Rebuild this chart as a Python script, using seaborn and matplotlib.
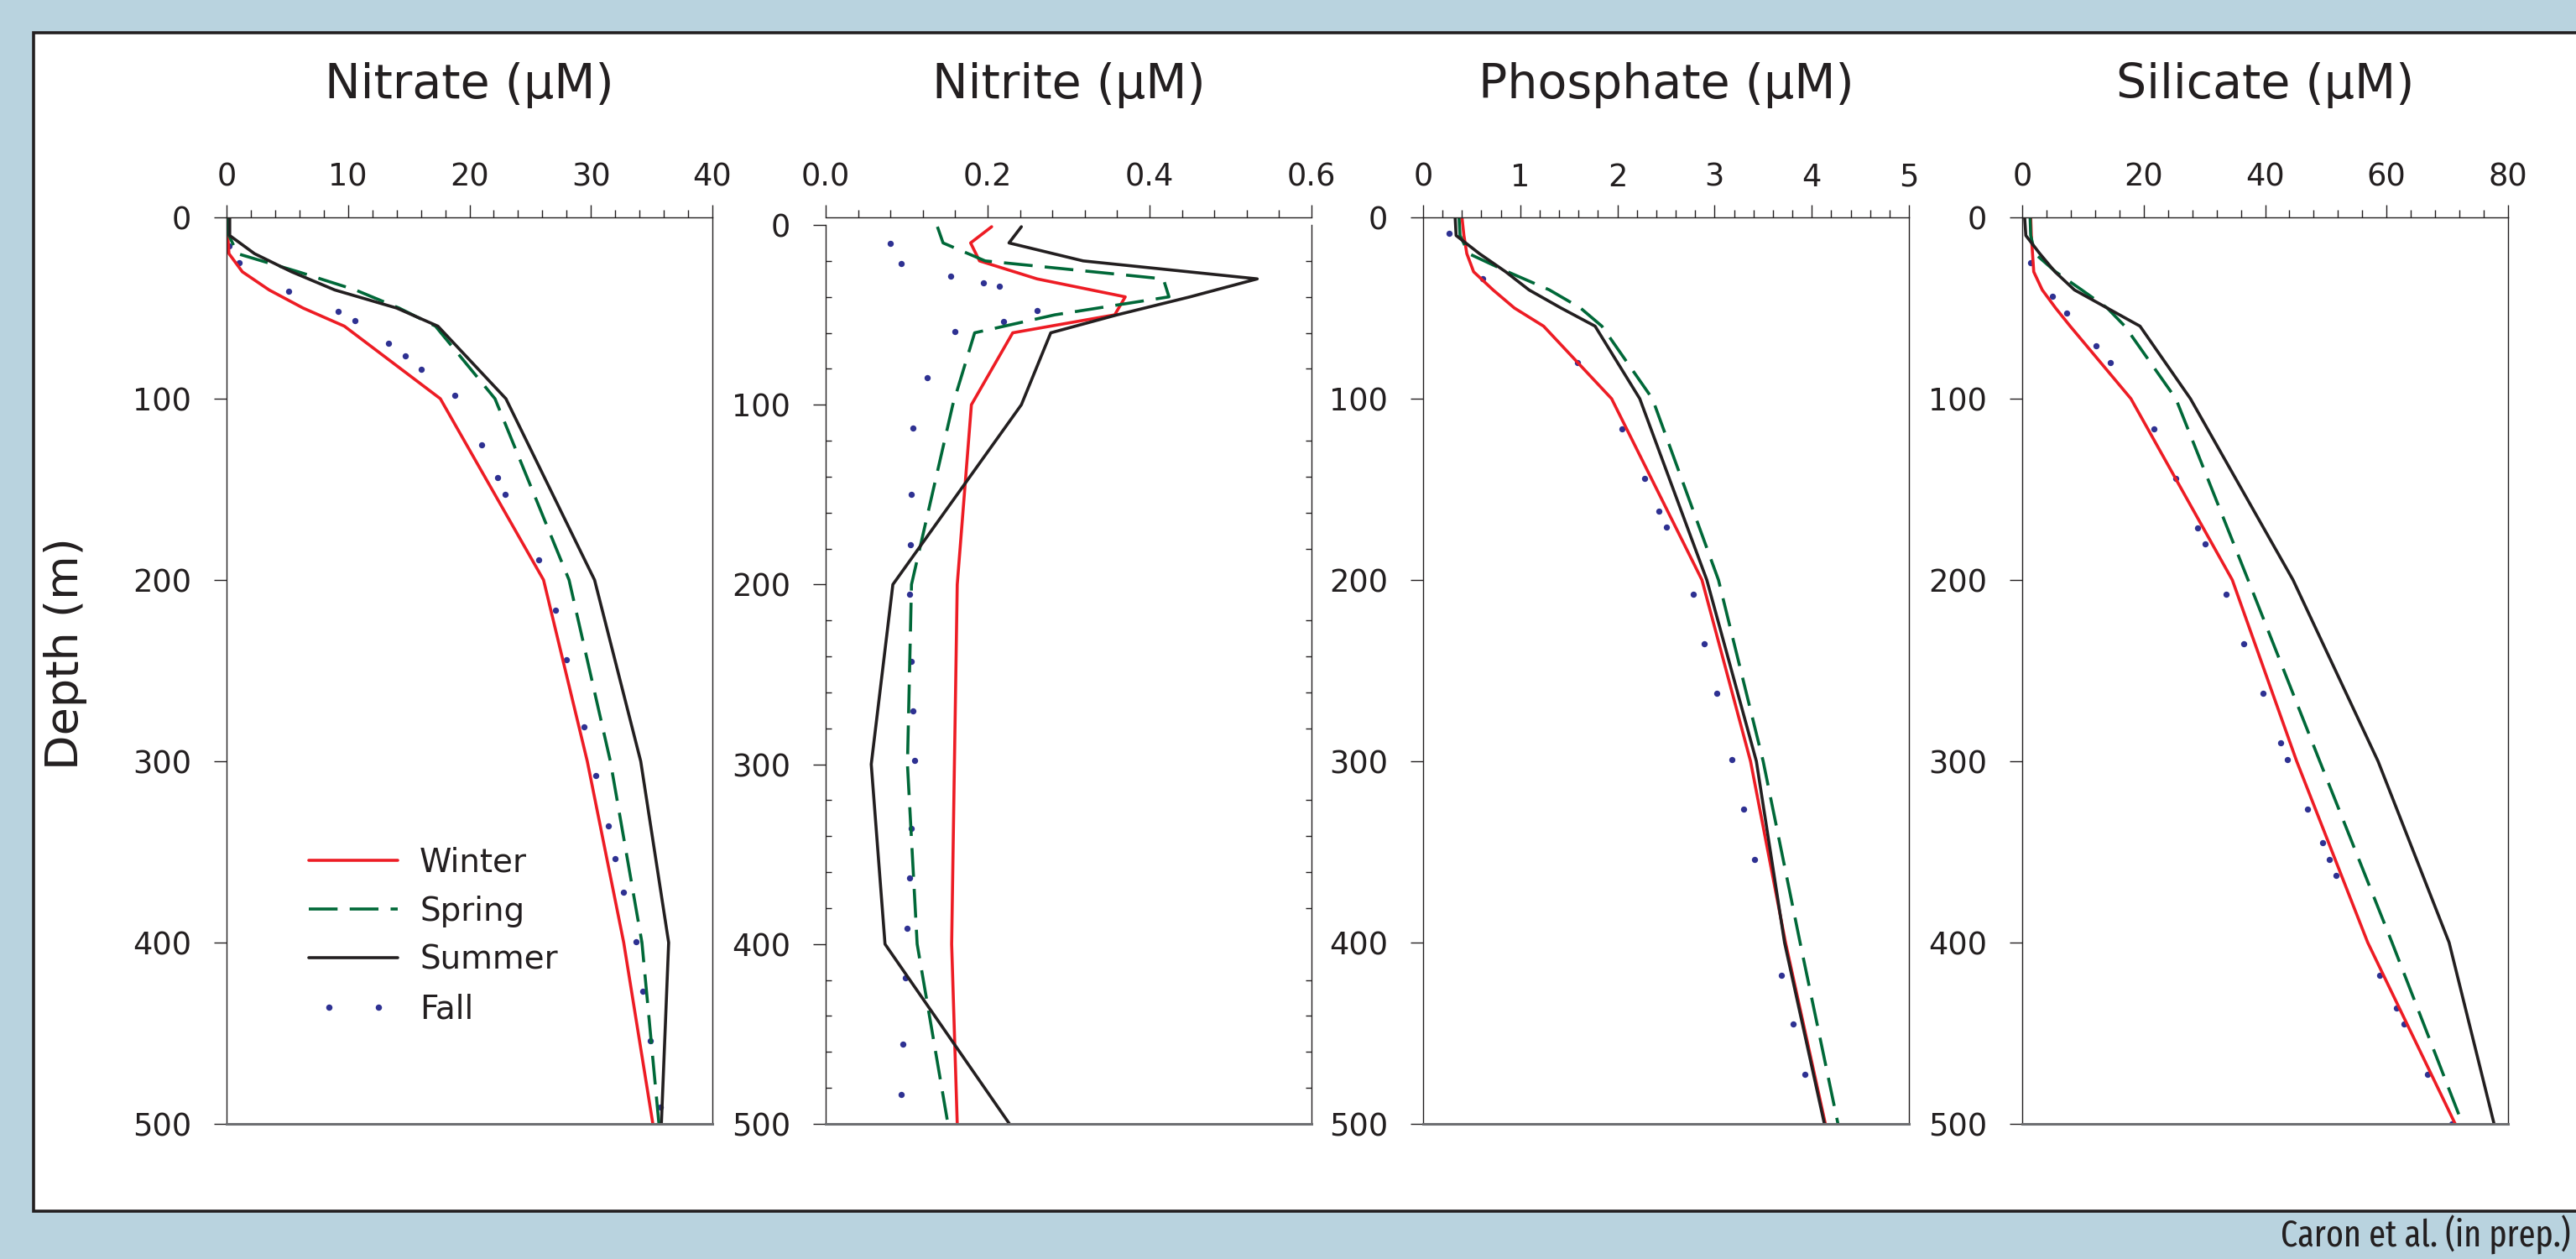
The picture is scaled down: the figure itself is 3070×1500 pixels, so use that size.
import os
import numpy as np
import pandas as pd
import matplotlib
matplotlib.use("Agg")
import matplotlib.pyplot as plt
from matplotlib.patches import Rectangle
from matplotlib.lines import Line2D
from matplotlib.legend_handler import HandlerLine2D
from matplotlib.ticker import MultipleLocator
from matplotlib import font_manager
from matplotlib.font_manager import FontProperties
import seaborn as sns

# ---------------- data ----------------
seasons = ["Winter", "Spring", "Summer"]
depth_std = [0, 10, 20, 30, 40, 50, 60, 100, 200, 300, 400, 500]
depth_nitrite = [1, 10, 20, 30, 40, 50, 60, 100, 200, 300, 400, 500]

nitrate_winter = [0.05, 0.1, 0.2, 1.3, 3.5, 6.3, 9.7, 17.6, 26.1, 29.7, 32.7, 35.1]
nitrate_spring = [0.1, 0.2, 0.9, 5.9, 10.6, 14.2, 17.2, 22.1, 28.2, 31.6, 34.2, 35.6]
nitrate_summer = [0.26, 0.26, 2.3, 5.35, 8.9, 14.0, 17.4, 23.0, 30.3, 34.1, 36.4, 35.8]
nitrate_fall_depth = [15.9, 24.8, 40.9, 52, 57, 69.6, 76.5, 84, 98.3, 125.5, 143.7, 152.6,
                      189, 216.7, 244, 280.8, 308, 335.6, 353.7, 372, 399.5, 426.7, 454, 490.7]
nitrate_fall = [0.19, 1.02, 5.1, 9.2, 10.6, 13.3, 14.7, 16.0, 18.8, 21.0, 22.3, 22.96,
                25.7, 27.1, 28.0, 29.4, 30.4, 31.4, 32.0, 32.7, 33.7, 34.3, 34.9, 35.75]

nitrite_winter = [0.205, 0.179, 0.190, 0.261, 0.370, 0.357, 0.231, 0.180, 0.1625, 0.159, 0.1556, 0.1625]
nitrite_spring = [0.138, 0.145, 0.197, 0.417, 0.424, 0.283, 0.184, 0.157, 0.106, 0.101, 0.113, 0.151]
nitrite_summer = [0.2417, 0.2264, 0.318, 0.533, 0.45, 0.36, 0.278, 0.2417, 0.083, 0.0563, 0.0733, 0.227]
nitrite_fall_depth = [10.3, 21.7, 28.3, 32.2, 34.1, 47.6, 53.7, 59.3, 85.1, 113, 150, 177.9,
                      205.5, 242.8, 270.4, 298, 335.5, 363.1, 391, 418.6, 455.6, 483.7]
nitrite_fall = [0.0795, 0.0928, 0.1547, 0.195, 0.215, 0.261, 0.220, 0.1596, 0.125, 0.1077, 0.106, 0.105,
                0.104, 0.106, 0.1075, 0.110, 0.106, 0.104, 0.100, 0.098, 0.0955, 0.093]

phosphate_winter = [0.40, 0.42, 0.45, 0.52, 0.72, 0.94, 1.24, 1.94, 2.87, 3.37, 3.73, 4.14]
phosphate_spring = [0.37, 0.38, 0.47, 0.87, 1.30, 1.62, 1.84, 2.36, 3.04, 3.50, 3.88, 4.27]
phosphate_summer = [0.33, 0.34, 0.58, 0.85, 1.09, 1.42, 1.77, 2.23, 2.92, 3.43, 3.72, 4.13]
phosphate_fall_depth = [8.6, 33.6, 80, 116.5, 144, 162, 171, 208, 235, 262.7, 299, 326.6, 354, 418, 445, 472.7]
phosphate_fall = [0.27, 0.61, 1.59, 2.05, 2.28, 2.43, 2.50, 2.78, 2.89, 3.02, 3.18, 3.30, 3.41, 3.69, 3.81, 3.93]

silicate_winter = [1.4, 1.5, 1.7, 1.9, 3.3, 5.5, 7.9, 17.9, 34.6, 45.2, 56.9, 71.3]
silicate_spring = [1.3, 1.4, 2.1, 5.5, 9.8, 14.0, 16.9, 25.3, 37.2, 49.0, 60.9, 72.5]
silicate_summer = [0.4, 0.6, 2.9, 5.4, 8.6, 14.0, 19.4, 27.7, 44.6, 58.6, 70.3, 77.7]
silicate_fall_depth = [25.2, 43.4, 52.6, 70.8, 80, 116.5, 144, 171.3, 180, 208, 235, 262.7, 290, 299,
                       326.6, 344.8, 354, 363, 418, 436, 445, 472.7, 500]
silicate_fall = [1.4, 5.0, 7.35, 12.2, 14.5, 21.7, 25.3, 28.9, 30.1, 33.6, 36.5, 39.6, 42.6, 43.6,
                 47.0, 49.4, 50.6, 51.7, 58.9, 61.6, 62.9, 66.8, 70.7]

titles = ["Nitrate (\u03bcM)", "Nitrite (\u03bcM)", "Phosphate (\u03bcM)", "Silicate (\u03bcM)"]
x_ticks = [[0, 10, 20, 30, 40], [0.0, 0.2, 0.4, 0.6], [0, 1, 2, 3, 4, 5], [0, 20, 40, 60, 80]]
x_tick_labels = [["0", "10", "20", "30", "40"], ["0.0", "0.2", "0.4", "0.6"],
                 ["0", "1", "2", "3", "4", "5"], ["0", "20", "40", "60", "80"]]
x_minor = [2, 0.04, 0.2, 4]
y_ticks = [0, 100, 200, 300, 400, 500]
y_tick_labels = ["0", "100", "200", "300", "400", "500"]
y_label = "Depth (m)"
credit = "Caron et al. (in prep.)"

panels = [
    (depth_std, nitrate_winter, nitrate_spring, nitrate_summer, nitrate_fall_depth, nitrate_fall),
    (depth_nitrite, nitrite_winter, nitrite_spring, nitrite_summer, nitrite_fall_depth, nitrite_fall),
    (depth_std, phosphate_winter, phosphate_spring, phosphate_summer, phosphate_fall_depth, phosphate_fall),
    (depth_std, silicate_winter, silicate_spring, silicate_summer, silicate_fall_depth, silicate_fall),
]

# ---------------- style ----------------
sns.set_theme(style="white")
plt.rcParams["font.family"] = ["DejaVu Sans"]
INK = "#231f20"
plt.rcParams["text.color"] = INK
plt.rcParams["xtick.color"] = INK
plt.rcParams["ytick.color"] = INK

RED, GREEN, BLACK, NAVY = "#ed1c24", "#006838", "#231f20", "#2e3192"
palette = {"Winter": RED, "Spring": GREEN, "Summer": BLACK}
DASH = (9.5, 4.0)
dash_map = {"Winter": "", "Spring": DASH, "Summer": ""}
LW = 2.6

# condensed face for the credit line (narrowest regular face available)
font_files = {}
for f in font_manager.fontManager.ttflist:
    font_files.setdefault(os.path.basename(f.fname).lower(), f.fname)
for f in font_manager.findSystemFonts():
    font_files.setdefault(os.path.basename(f).lower(), f)
bad = ("bold", "italic", "light", "thin", "medium", "black", "semi", "oblique", "mono", "display")
credit_prop = None
for key in ("extracondensed", "condensed", "narrow"):
    cands = sorted(k for k in font_files
                   if key in k and k.endswith((".ttf", ".otf"))
                   and not any(b in k for b in bad)
                   and (key != "condensed" or "extracondensed" not in k))
    pref = [k for k in cands if k.startswith(("notosans", "roboto", "opensans", "liberation", "dejavu"))]
    pick = (pref or cands)
    if pick:
        credit_prop = FontProperties(fname=font_files[pick[0]])
        break
if credit_prop is None:
    credit_prop = FontProperties(family="DejaVu Sans", stretch="condensed")

W, H = 3070, 1500
fig = plt.figure(figsize=(W / 100, H / 100), dpi=100)
fig.patch.set_facecolor("#b9d3df")
box_l, box_t, box_b = 40, 39, 1443
fig.add_artist(Rectangle((box_l / W, 1 - box_b / H), 1.2, (box_b - box_t) / H, transform=fig.transFigure,
                         facecolor="white", edgecolor=INK, lw=2.6, zorder=-5))

lefts = [270, 984, 1696, 2410]
ax_w, ax_top, ax_bot = 579, 259, 1339

axes = []
for i, (dep, win, spr, summ, fdep, fval) in enumerate(panels):
    ax = fig.add_axes([lefts[i] / W, 1 - ax_bot / H, ax_w / W, (ax_bot - ax_top) / H])
    ax.set_facecolor("none")
    df = pd.DataFrame({
        "season": np.repeat(seasons, len(dep)),
        "depth": list(dep) * 3,
        "value": list(win) + list(spr) + list(summ),
    })
    sns.scatterplot(x=fval, y=fdep, color=NAVY, s=28, linewidth=0, ax=ax, legend=False, zorder=1)
    sns.lineplot(data=df, x="value", y="depth", hue="season", style="season", hue_order=seasons,
                 style_order=seasons, palette=palette, dashes=dash_map, sort=False, estimator=None,
                 lw=LW, ax=ax, legend=False)
    ax.set_xlim(x_ticks[i][0], x_ticks[i][-1])
    ax.set_ylim(500, -4.2 if i == 1 else 0)
    ax.set_xlabel("")
    ax.set_ylabel("")
    ax.xaxis.tick_top()
    ax.set_xticks(x_ticks[i])
    ax.set_xticklabels(x_tick_labels[i])
    ax.xaxis.set_minor_locator(MultipleLocator(x_minor[i]))
    ax.tick_params(axis="x", which="major", direction="out", length=11, width=1.0, pad=10,
                   labelsize=26.5, top=True, bottom=False, labeltop=True, labelbottom=False)
    ax.tick_params(axis="x", which="minor", direction="out", length=6.5, width=1.0,
                   top=True, bottom=False)
    ax.set_yticks(y_ticks)
    ax.set_yticklabels(y_tick_labels)
    ax.tick_params(axis="y", which="major", direction="out", length=11, width=1.0, pad=19,
                   labelsize=26.5, left=True, right=False)
    for s in ax.spines.values():
        s.set_visible(True)
        s.set_color(INK)
        s.set_linewidth(1.0)
    ax.spines["bottom"].set_linewidth(2.2)
    ax.spines["bottom"].set_color("#6d6e71")
    if i == 1:
        ax.spines["left"].set_bounds(0, 500)
        ax.spines["right"].set_bounds(0, 500)
        ax.yaxis.set_minor_locator(MultipleLocator(20))
        ax.tick_params(axis="y", which="minor", direction="in", length=5, width=1.0,
                       left=True, right=True)
    ax.grid(False)
    cx = (lefts[i] + ax_w / 2) / W
    fig.text(cx, 1 - 117 / H, titles[i], ha="center", va="baseline", fontsize=41)
    axes.append(ax)

# legend in the first panel
h_w = Line2D([], [], color=RED, lw=LW)
h_s = Line2D([], [], color=GREEN, lw=LW, dashes=DASH)
h_su = Line2D([], [], color=BLACK, lw=LW)
h_f = Line2D([], [], color=NAVY, marker="o", ls="none", ms=5.4, mew=0)
axes[0].legend([h_w, h_s, h_su, h_f], ["Winter", "Spring", "Summer", "Fall"],
               loc="upper left", bbox_to_anchor=(0.1696, 0.306), frameon=False, fontsize=28,
               handlelength=2.72, handletextpad=0.67, labelspacing=0.52, borderpad=0,
               borderaxespad=0, handler_map={h_f: HandlerLine2D(marker_pad=0.6, numpoints=2)})

fig.text(78 / W, 1 - 779 / H, y_label, rotation=90, ha="center", va="center", fontsize=39)

# credit line, sized to about the reference width
cred = fig.text(3064 / W, 1 - 1486 / H, credit, ha="right", va="baseline", fontproperties=credit_prop,
                fontsize=34)
fig.canvas.draw()
wpx = cred.get_window_extent(renderer=fig.canvas.get_renderer()).width
cred.set_fontsize(min(46, 34 * 345.0 / max(wpx, 1)))

fig.savefig("out.png", dpi=100, facecolor=fig.get_facecolor())
